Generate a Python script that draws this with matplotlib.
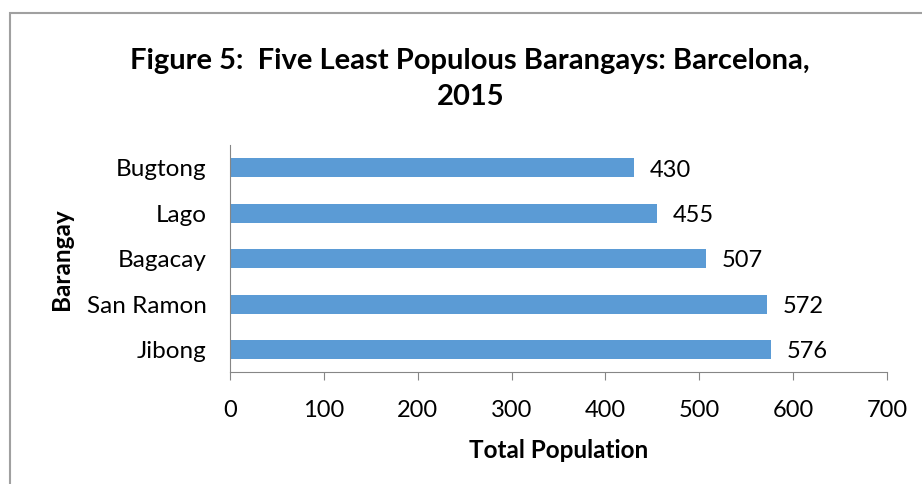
import matplotlib
matplotlib.use("Agg")
import matplotlib.pyplot as plt
from matplotlib.patches import Rectangle

barangays = ["Jibong", "San Ramon", "Bagacay", "Lago", "Bugtong"]
population = [576, 572, 507, 455, 430]
xticks = [0, 100, 200, 300, 400, 500, 600, 700]

plt.rcParams['font.family'] = ['Lato', 'DejaVu Sans']

fig = plt.figure(figsize=(9.22, 4.84), dpi=100)
ax = fig.add_axes([0.2495, 0.231, 0.7125, 0.469])

ax.barh(range(len(barangays)), population, height=0.42, color='#5B9BD5')
for i, v in enumerate(population):
    ax.text(v + 17, i - 0.05, str(v), va='center', ha='left', fontsize=17)

ax.set_xlim(0, 700)
ax.set_ylim(-0.5, len(barangays) - 0.5)
ax.set_xticks(xticks)
ax.set_xticklabels([str(t) for t in xticks], fontsize=17)
ax.set_yticks(range(len(barangays)))
ax.set_yticklabels(barangays, fontsize=17.5)
ax.tick_params(axis='y', length=0, pad=17)
ax.tick_params(axis='x', length=6, direction='out', color='#868686', pad=14)

for s in ['top', 'right']:
    ax.spines[s].set_visible(False)
for s in ['left', 'bottom']:
    ax.spines[s].set_color('#868686')

ax.set_xlabel("Total Population", fontsize=17.5, fontweight='bold', labelpad=13)
ax.set_ylabel("Barangay", fontsize=17.5, fontweight='bold')
ax.yaxis.set_label_coords(-157 / 657, 0.5)

fig.text(0.51, 0.837, "Figure 5:  Five Least Populous Barangays: Barcelona,\n2015",
         ha='center', va='center', fontsize=21, fontweight='bold', linespacing=1.5)

fig.patches.append(Rectangle((10 / 922, -0.1), 1.2, 1 - 13 / 484 + 0.1,
                             transform=fig.transFigure, fill=False,
                             edgecolor='#A0A0A0', linewidth=1.5))

fig.savefig("out.png", dpi=100)
